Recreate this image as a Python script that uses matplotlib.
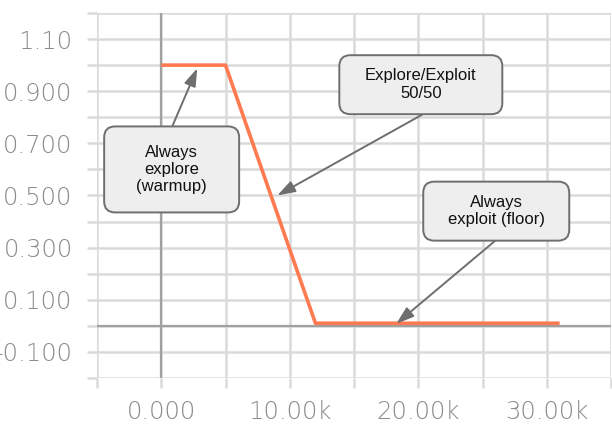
import matplotlib
matplotlib.use("Agg")
import matplotlib.pyplot as plt
from matplotlib.patches import FancyBboxPatch
from matplotlib.transforms import IdentityTransform

# epsilon schedule: warmup, linear decay, floor
steps = [0, 5000, 12000, 31000]
epsilon = [1.0, 1.0, 0.01, 0.01]

x_ticks = [0, 10000, 20000, 30000]
x_labels = ["0.000", "10.00k", "20.00k", "30.00k"]
x_minor = [-5000, 5000, 15000, 25000, 35000]
y_ticks = [-0.1, 0.1, 0.3, 0.5, 0.7, 0.9, 1.1]
y_labels = ["-0.100", "0.100", "0.300", "0.500", "0.700", "0.900", "1.10"]
y_minor = [-0.2, 0.0, 0.2, 0.4, 0.6, 0.8, 1.0, 1.2]

# annotation text, box centre (data), arrow tail (data), arrow tip (data), box size (px)
notes = [
    ("Always\nexplore\n(warmup)", (810, 0.60), (856, 0.765), (2800, 0.988), (135, 86)),
    ("Explore/Exploit\n50/50", (20200, 0.925), (20300, 0.81), (9030, 0.50), (163, 59)),
    ("Always\nexploit (floor)", (26070, 0.44), (26000, 0.327), (18290, 0.008), (146, 59)),
]

grid_c = "#dadada"
axis_c = "#a0a0a0"
label_c = "#8c8c8c"

fig = plt.figure(figsize=(6.12, 4.26), dpi=100)
ax = fig.add_axes([97 / 612, 48 / 426, 514 / 612, 365 / 426])
ax.set_xlim(-5000, 35000)
ax.set_ylim(-0.2, 1.2)

for s in ax.spines.values():
    s.set_visible(False)

ax.set_xticks(x_ticks)
ax.set_xticklabels(x_labels)
ax.set_xticks(x_minor, minor=True)
ax.set_yticks(y_ticks)
ax.set_yticklabels(y_labels)
ax.set_yticks(y_minor, minor=True)
ax.grid(True, which="both", color=grid_c, lw=1.8, zorder=0)
ax.set_axisbelow(True)
ax.tick_params(which="both", color=grid_c, width=1.8, labelcolor=label_c,
               labelsize=17.5)
ax.tick_params(axis="x", which="both", length=7, pad=9)
ax.tick_params(axis="y", which="both", length=7.5, pad=10)
for lab in ax.get_xticklabels() + ax.get_yticklabels():
    lab.set_fontweight("light")

ax.axvline(0, color=axis_c, lw=1.6, zorder=1)
ax.axhline(0, color=axis_c, lw=1.6, zorder=1)

ax.plot(steps, epsilon, color="#ff7a50", lw=2.6, solid_capstyle="butt", zorder=3)

fig.canvas.draw()
for text, centre, tail, tip, size in notes:
    ax.annotate("", xy=tip, xytext=tail,
                arrowprops=dict(arrowstyle="-|>,head_length=0.9,head_width=0.3",
                                color="#6e6e6e", lw=1.4, shrinkA=0, shrinkB=0,
                                mutation_scale=12),
                zorder=4)
    cx, cy = ax.transData.transform(centre)
    w, h = size
    box = FancyBboxPatch((cx - w / 2, cy - h / 2), w, h,
                         boxstyle="round,pad=0,rounding_size=11",
                         transform=IdentityTransform(), facecolor="#eeeeee",
                         edgecolor="#6e6e6e", lw=1.4, zorder=5, clip_on=False)
    ax.add_artist(box)
    ax.text(centre[0], centre[1], text, ha="center", va="center",
            multialignment="center", fontsize=12, family="Liberation Sans",
            color="#111111", linespacing=1.2, zorder=6)

fig.savefig("out.png", dpi=100)
